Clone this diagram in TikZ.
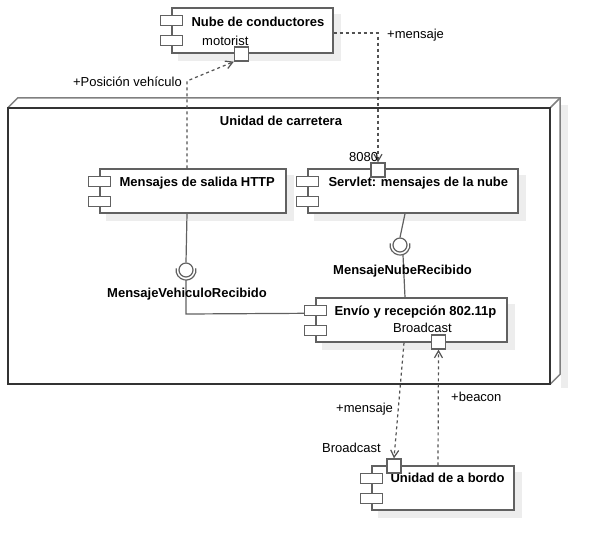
\documentclass[tikz,border=0pt]{standalone}
\usepackage{fontspec}
\setmainfont{Liberation Sans}
\usetikzlibrary{arrows.meta,calc,backgrounds}
\begin{document}
\begin{tikzpicture}[x=1pt,y=-1pt,
  comp/.style={draw=black!62, line width=1.4pt, fill=white, inner sep=0, minimum height=44pt},
  tab/.style={draw=black!62, line width=1.3pt, fill=white},
  port/.style={draw=black!62, line width=1.3pt, fill=white, inner sep=0, minimum size=14pt},
  ball/.style={circle, draw=black!62, line width=1.2pt, fill=white, inner sep=0, minimum size=14pt},
  conn/.style={draw=black!62, line width=1.2pt},
  dep/.style={draw=black!68, line width=1.2pt, dash pattern=on 3pt off 3pt, -{Straight Barb[length=7pt,width=8pt]}},
  lbl/.style={inner sep=0, font=\fontsize{13}{15}\selectfont, text height=9pt, text depth=0pt},
  blbl/.style={lbl, font=\fontsize{13}{15}\selectfont\bfseries},
  shade/.style={fill=black!7},
  front/.style={draw=black!80, line width=1.8pt},
  back/.style={draw=black!50, line width=1.5pt}]
\newcommand\comptabs[1]{%
  \draw[tab] ($(#1.north west)+(-11,8)$) rectangle ($(#1.north west)+(11,18)$);
  \draw[tab] ($(#1.north west)+(-11,28)$) rectangle ($(#1.north west)+(11,38)$);}
\useasboundingbox (0,0) rectangle (602,550);

% node (3D box)
\node[inner sep=0, minimum width=542pt, minimum height=276pt] (road) at (279,246) {};
\draw[back] (road.north west) -- ++(10,-10) -- ($(road.north east)+(10,-10)$) -- ($(road.south east)+(10,-10)$) -- (road.south east);
\draw[back] (road.north east) -- ($(road.north east)+(10,-10)$);
\draw[front] (road.north west) rectangle (road.south east);
\node[blbl] (roadtitle) at (281,121) {Unidad de carretera};

% components
\node[comp, minimum width=161pt, minimum height=45pt] (nube) at (252.5,30.5) {};
\node[comp, minimum width=186pt] (http) at (193,191) {};
\node[comp, minimum width=210pt] (servlet) at (413,191) {};
\node[comp, minimum width=191pt] (envio) at (411.5,320) {};
\node[comp, minimum width=142pt] (abordo) at (443,488) {};

\begin{scope}[on background layer]
  \fill[white] (0,0) rectangle (602,550);
  \fill[shade] ($(road.north east)+(11,-3)$) rectangle ($(road.south east)+(18,4)$);
  \foreach \n in {nube,http,servlet,envio,abordo}
    \fill[shade] ($(\n.north west)+(7,7)$) rectangle ($(\n.south east)+(7,7)$);
\end{scope}

\comptabs{nube}
\comptabs{http}
\comptabs{servlet}
\comptabs{envio}
\comptabs{abordo}

\node[blbl, anchor=west] (nubet) at ($(nube.north west)+(20,15)$) {Nube de conductores};
\node[blbl, anchor=west] (httpt) at ($(http.north west)+(20,14)$) {Mensajes de salida HTTP};
\node[blbl, anchor=west] (servt) at ($(servlet.north west)+(21,14)$) {Servlet: mensajes de la nube};
\node[blbl, anchor=west] (enviot) at ($(envio.north west)+(19,14)$) {Envío y recepción 802.11p};
\node[blbl, anchor=west] (abordot) at ($(abordo.north west)+(19,13)$) {Unidad de a bordo};

% ports
\node[port] (pm) at (241.5,54) {};
\node[port] (p8080) at (378,170) {};
\node[port] (pb1) at (438.5,342) {};
\node[port] (pb2) at (394,466) {};

% sockets
\node[ball] (sockL) at (186,270) {};
\node[ball] (sockR) at (400,245) {};
\draw[conn] ($(sockL.center)+(190:10)$) arc[start angle=190, end angle=-10, radius=10];
\draw[conn] ($(sockR.center)+(190:10)$) arc[start angle=190, end angle=-10, radius=10];
\draw[conn] ($(http.south)+(-6,0)$) -- (sockL.north);
\coordinate (bendC) at (186,314);
\draw[conn] ($(sockL.center)+(0,10)$) -- (bendC) -- ($(envio.north west)+(-11,16)$);
\draw[conn] ($(servlet.south)+(-8,0)$) -- (sockR.north);
\draw[conn] ($(envio.north)+(-6.5,0)$) -- ($(sockR.center)+(3,10)$);

% dependencies
\coordinate (bendA) at (187,81);
\draw[dep] ($(http.north)+(-6,0)$) -- (bendA) -- (pm.south west);
\coordinate (bendB) at (378,33);
\draw[dep] (nube.east |- bendB) -- (bendB) -- (p8080.north);
\draw[dep] ($(envio.south)+(-7.5,0)$) -- (pb2.north);
\draw[dep] ($(abordo.north)+(-5,0)$) -- (pb1.south);

% labels
\node[lbl, anchor=east] (lpos) at (182,82) {+Posición vehículo};
\node[lbl, anchor=west] (lmsg1) at (387,34) {+mensaje};
\node[lbl, anchor=west] (lmot) at (202,41) {motorist};
\node[lbl, anchor=west] (l8080) at (349,157) {8080};
\node[blbl, anchor=west] (lnube) at (333,270) {MensajeNubeRecibido};
\node[blbl, anchor=west] (lveh) at (107,293) {MensajeVehiculoRecibido};
\node[lbl, anchor=west] (lbc1) at (393,328) {Broadcast};
\node[lbl, anchor=west] (lmsg2) at (336,408) {+mensaje};
\node[lbl, anchor=west] (lbeac) at (451,397) {+beacon};
\node[lbl, anchor=west] (lbc2) at (322,448) {Broadcast};
\end{tikzpicture}
\end{document}
